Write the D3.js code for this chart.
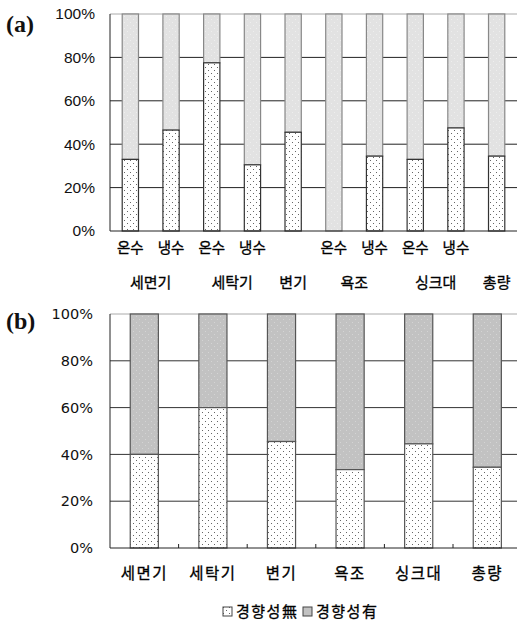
<!DOCTYPE html>
<html><head><meta charset="utf-8">
<script src="https://cdn.jsdelivr.net/npm/d3@7"></script>
<style>body{margin:0;background:#fff}svg{display:block}</style>
</head><body>
<script>
// ---- data ----
const subLabelsA = ["온수","냉수","온수","냉수","","온수","냉수","온수","냉수",""];
const groupLabelsA = ["세면기","세탁기","변기","욕조","싱크대","총량"];
const groupStartA = [0,2,4,5,7,9];
const groupEndA = [1,3,4,6,8,9];
const noTrendA = [33, 46.5, 77.5, 30.5, 45.5, 0, 34.5, 33, 47.5, 34.5];   // 경향성無 (%)
const categoriesB = ["세면기","세탁기","변기","욕조","싱크대","총량"];
const noTrendB = [40, 60, 45.5, 33.5, 44.5, 34.5];                         // 경향성無 (%)
const yTicks = [0,20,40,60,80,100];
const legendLabels = ["경향성無","경향성有"];

const W = 517, H = 620;
const svg = d3.select("body").append("svg").attr("width", W).attr("height", H);
const defs = svg.append("defs");

function dotPattern(id, bg, dot, r){
  const p = defs.append("pattern").attr("id", id).attr("patternUnits","userSpaceOnUse")
    .attr("width", 6).attr("height", 6);
  p.append("rect").attr("width",6).attr("height",6).attr("fill",bg);
  p.append("rect").attr("x",1).attr("y",1).attr("width",r).attr("height",r).attr("fill",dot);
  p.append("rect").attr("x",4).attr("y",4).attr("width",r).attr("height",r).attr("fill",dot);
}
dotPattern("dotW", "#ffffff", "#666", 1);
dotPattern("grayA", "#e2e2e2", "#eeeeee", 1);
dotPattern("grayB", "#c2c2c2", "#d4d4d4", 1);

// ---------------- chart (a) ----------------
const xA = d3.scaleBand().domain(d3.range(subLabelsA.length)).range([110, 517]).paddingInner(0.6).paddingOuter(0.3);
const yA = d3.scaleLinear().domain([0,100]).range([231, 14]);
const gA = svg.append("g");

gA.selectAll("line.grid").data(yTicks.filter(t=>t>0)).join("line")
  .attr("x1",110).attr("x2",W).attr("y1",d=>yA(d)).attr("y2",d=>yA(d))
  .attr("stroke", d=>d===100?"#aaa":"#222").attr("stroke-width",1);
gA.append("line").attr("x1",110).attr("x2",110).attr("y1",yA(100)).attr("y2",yA(0)).attr("stroke","#222");

const yAxisA = d3.axisLeft(yA).tickValues(yTicks).tickSize(0).tickPadding(0).tickFormat(d=>d+"%");
gA.append("g").attr("transform","translate(95,0)").call(yAxisA)
  .call(g=>g.select(".domain").remove())
  .selectAll("text").attr("font-family","Liberation Sans, Arial, sans-serif").attr("font-size",15.5).attr("fill","#111");

noTrendA.forEach((v,i)=>{
  const x = xA(i), w = xA.bandwidth();
  gA.append("rect").attr("x",x).attr("width",w).attr("y",yA(100)).attr("height",yA(v)-yA(100))
    .attr("fill","url(#grayA)").attr("stroke","#888").attr("stroke-width",1.2);
  if (v>0) gA.append("rect").attr("x",x).attr("width",w).attr("y",yA(v)).attr("height",yA(0)-yA(v))
    .attr("fill","url(#dotW)").attr("stroke","#333").attr("stroke-width",1.2);
});
gA.append("line").attr("x1",110).attr("x2",W).attr("y1",yA(0)).attr("y2",yA(0)).attr("stroke","#222");

const cjk = "'Noto Sans CJK KR', sans-serif";
gA.selectAll("text.sub").data(subLabelsA).join("text")
  .attr("x",(d,i)=>xA(i)+xA.bandwidth()/2).attr("y",248).attr("dy","0.35em")
  .attr("text-anchor","middle").attr("font-family",cjk).attr("font-size",14.5).attr("fill","#000")
  .attr("stroke","#000").attr("stroke-width",0.3).text(d=>d);
gA.selectAll("text.grp").data(groupLabelsA).join("text")
  .attr("x",(d,i)=>(xA(groupStartA[i])+xA(groupEndA[i])+xA.bandwidth())/2).attr("y",283).attr("dy","0.35em")
  .attr("text-anchor","middle").attr("font-family",cjk).attr("font-size",15).attr("fill","#000")
  .attr("stroke","#000").attr("stroke-width",0.3).text(d=>d);

svg.append("text").attr("x",6).attr("y",24).attr("dy","0.35em").attr("font-family","Liberation Serif, serif")
  .attr("font-size",24).attr("font-weight","bold").attr("fill","#111").text("(a)");

// ---------------- chart (b) ----------------
const xB = d3.scaleBand().domain(categoriesB).range([110, 521.6]).paddingInner(0.59).paddingOuter(0.295);
const yB = d3.scaleLinear().domain([0,100]).range([548, 314]);
const gB = svg.append("g");

gB.selectAll("line.grid").data(yTicks.filter(t=>t>0)).join("line")
  .attr("x1",110).attr("x2",W).attr("y1",d=>yB(d)).attr("y2",d=>yB(d))
  .attr("stroke", d=>d===100?"#aaa":"#333").attr("stroke-width",1);
gB.append("line").attr("x1",110).attr("x2",110).attr("y1",yB(100)).attr("y2",yB(0)).attr("stroke","#222");

const yAxisB = d3.axisLeft(yB).tickValues(yTicks).tickSize(0).tickPadding(0).tickFormat(d=>d+"%");
gB.append("g").attr("transform","translate(93,0)").call(yAxisB)
  .call(g=>g.select(".domain").remove())
  .selectAll("text").attr("font-family","DejaVu Sans, sans-serif").attr("font-size",14.5).attr("fill","#111");

categoriesB.forEach((c,i)=>{
  const v = noTrendB[i], x = xB(c), w = xB.bandwidth();
  gB.append("rect").attr("x",x).attr("width",w).attr("y",yB(100)).attr("height",yB(v)-yB(100))
    .attr("fill","url(#grayB)").attr("stroke","#555").attr("stroke-width",1.2);
  gB.append("rect").attr("x",x).attr("width",w).attr("y",yB(v)).attr("height",yB(0)-yB(v))
    .attr("fill","url(#dotW)").attr("stroke","#555").attr("stroke-width",1.2);
});
gB.append("line").attr("x1",110).attr("x2",W).attr("y1",yB(0)).attr("y2",yB(0)).attr("stroke","#222");
// category boundary ticks
const stepB = xB.step();
gB.selectAll("line.tk").data(d3.range(1, categoriesB.length)).join("line")
  .attr("x1",d=>110+d*stepB).attr("x2",d=>110+d*stepB).attr("y1",yB(0)-4).attr("y2",yB(0))
  .attr("stroke","#222");

gB.selectAll("text.cat").data(categoriesB).join("text")
  .attr("x",d=>xB(d)+xB.bandwidth()/2).attr("y",574).attr("dy","0.35em")
  .attr("text-anchor","middle").attr("font-family",cjk).attr("font-size",15.5).attr("letter-spacing",1.5)
  .attr("fill","#000").attr("stroke","#000").attr("stroke-width",0.3).text(d=>d);

svg.append("text").attr("x",6).attr("y",321).attr("dy","0.35em").attr("font-family","Liberation Serif, serif")
  .attr("font-size",24).attr("font-weight","bold").attr("fill","#111").text("(b)");

// legend
const leg = svg.append("g");
const legX = [223, 303];
const legFill = ["url(#dotW)", "#c2c2c2"];
legendLabels.forEach((t,i)=>{
  leg.append("rect").attr("x",legX[i]).attr("y",607).attr("width",9).attr("height",9)
    .attr("fill",legFill[i]).attr("stroke","#444");
  leg.append("text").attr("x",legX[i]+13).attr("y",612).attr("dy","0.35em")
    .attr("font-family",cjk).attr("font-size",15).attr("letter-spacing",1.5).attr("fill","#000")
    .attr("stroke","#000").attr("stroke-width",0.3).text(t);
});
</script>
</body></html>
